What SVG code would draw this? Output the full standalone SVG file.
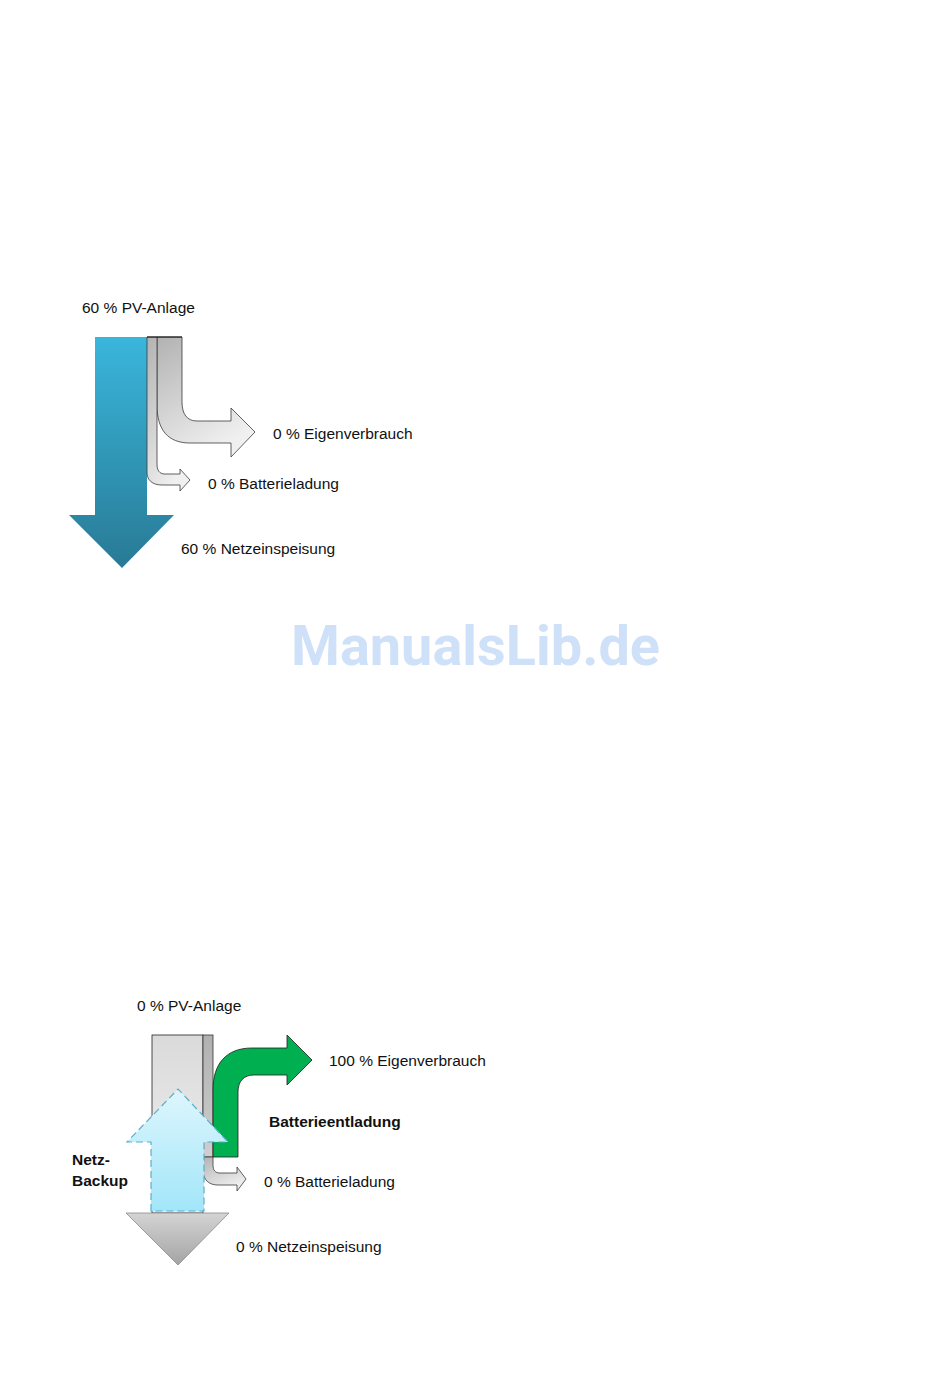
<svg xmlns="http://www.w3.org/2000/svg" width="950" height="1398" viewBox="0 0 950 1398">
<defs>
<linearGradient id="gBlue" x1="0" y1="0" x2="0" y2="1"><stop offset="0" stop-color="#3ab6dc"/><stop offset="1" stop-color="#287a95"/></linearGradient>
<linearGradient id="gGray" x1="0" y1="0" x2="0.5" y2="1"><stop offset="0" stop-color="#b2b2b2"/><stop offset="1" stop-color="#f0f0f0"/></linearGradient>
<linearGradient id="gCol" x1="0" y1="0" x2="0" y2="1"><stop offset="0" stop-color="#dadada"/><stop offset="1" stop-color="#f2f2f2"/></linearGradient>
<linearGradient id="gStrip" x1="0" y1="0" x2="0" y2="1"><stop offset="0" stop-color="#b0b0b0"/><stop offset="1" stop-color="#cfcfcf"/></linearGradient>
<linearGradient id="gHead" x1="0" y1="0" x2="0" y2="1"><stop offset="0" stop-color="#d4d4d4"/><stop offset="1" stop-color="#a4a4a4"/></linearGradient>
<linearGradient id="gSky" x1="0" y1="0" x2="0" y2="1"><stop offset="0" stop-color="#def6fd"/><stop offset="1" stop-color="#a2e6f9"/></linearGradient>
</defs>
<style>
.t{font-family:"Liberation Sans",Arial,sans-serif;font-size:15.5px;fill:#111}
.b{font-weight:bold}
.g{fill:url(#gGray);stroke:#3a3a3a;stroke-width:0.8}
.wm{font-family:Roboto,"Liberation Sans",sans-serif;font-weight:bold;font-size:56px;fill:#cfe1f8}
</style>
<rect width="950" height="1398" fill="#fff"/>

<g id="connectors">
  <path id="top-pv-netz" d="M95,337 L147,337 L147,515 L174,515 L122,568 L69,515 L95,515 Z" fill="url(#gBlue)"/>
  <path id="top-eigen" class="g" d="M157,337 L182,337 L182,402 C182,414 187,421 197,421 L231,421 L231,408 L255,432 L231,457 L231,443 L190,443 C168,443 157,430 157,405 Z"/>
  <path id="top-batt" class="g" d="M147,337 L157,337 L157,464 C157,470 159,474 165,474 L180,474 L180,469 L190,480 L180,491 L180,485 L162,485 C152,485 147,480 147,472 Z"/>
  <line x1="147" y1="337" x2="182" y2="337" stroke="#111" stroke-width="1.2"/>

  <rect id="bot-pv" x="152" y="1035" width="51" height="178" fill="url(#gCol)" stroke="#222" stroke-width="0.8"/>
  <rect id="bot-strip" x="203" y="1035" width="10" height="122" fill="url(#gStrip)" stroke="#333" stroke-width="0.8"/>
  <path id="bot-batt" class="g" d="M203,1157 L213,1157 L213,1165 C213,1170 215,1173 220,1173 L237,1173 L237,1167 L246,1179 L237,1191 L237,1185 L218,1185 C209,1185 203,1180 203,1170 Z"/>
  <polygon id="bot-netz" points="126,1213 229,1213 178,1265" fill="url(#gHead)" stroke="#8a8a8a" stroke-width="0.8"/>
  <path id="bot-eigen" d="M213,1157 L213,1090 C213,1064 226,1048 252,1048 L287,1048 L287,1035 L312,1060 L287,1085 L287,1075 L254,1075 C244,1075 238,1081 238,1092 L238,1157 Z" fill="#00b050" stroke="#1e1e1e" stroke-width="0.8"/>
  <path id="bot-backup" d="M151,1211 L151,1142 L127,1142 L178,1089 L228,1142 L204,1142 L204,1211 Z" fill="url(#gSky)" stroke="#5aaecb" stroke-width="1.2" stroke-dasharray="7 4"/>
</g>

<g id="n-top-pv"><text class="t" x="82" y="313">60 % PV-Anlage</text></g>
<g id="n-top-eigen"><text class="t" x="273" y="439">0 % Eigenverbrauch</text></g>
<g id="n-top-batt"><text class="t" x="208" y="489">0 % Batterieladung</text></g>
<g id="n-top-netz"><text class="t" x="181" y="554">60 % Netzeinspeisung</text></g>

<g id="watermark"><text class="wm" x="291" y="665" textLength="369" lengthAdjust="spacingAndGlyphs">ManualsLib.de</text></g>

<g id="n-bot-pv"><text class="t" x="137" y="1011">0 % PV-Anlage</text></g>
<g id="n-bot-eigen"><text class="t" x="329" y="1066">100 % Eigenverbrauch</text></g>
<g id="n-bot-entl"><text class="t b" x="269" y="1127">Batterieentladung</text></g>
<g id="n-bot-backup"><text class="t b" x="72" y="1165">Netz-</text><text class="t b" x="72" y="1186">Backup</text></g>
<g id="n-bot-batt"><text class="t" x="264" y="1187">0 % Batterieladung</text></g>
<g id="n-bot-netz"><text class="t" x="236" y="1252">0 % Netzeinspeisung</text></g>
</svg>
